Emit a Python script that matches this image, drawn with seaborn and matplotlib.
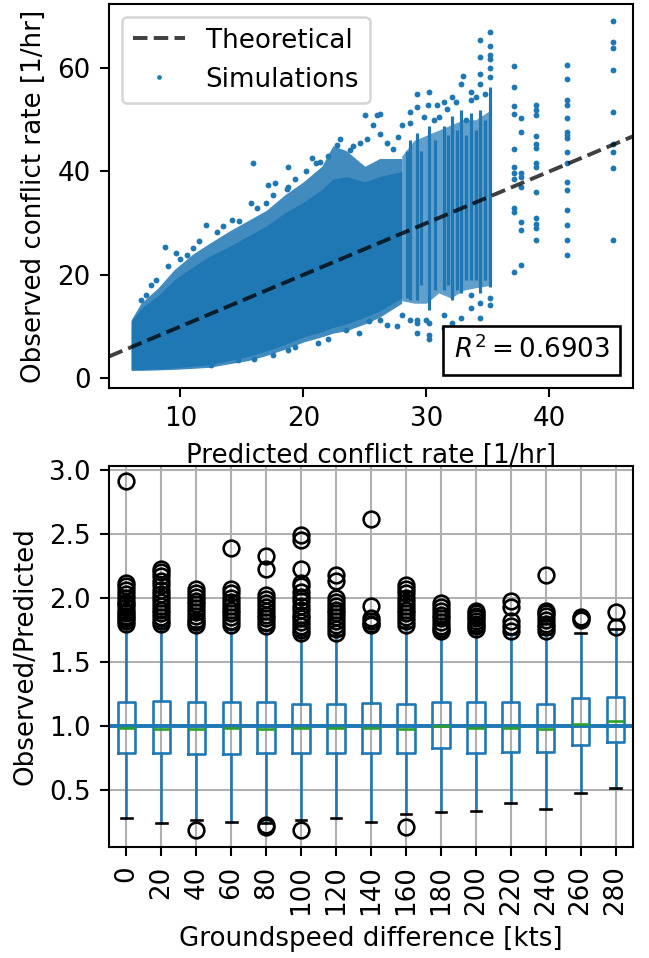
import matplotlib
matplotlib.use("Agg")
import matplotlib.pyplot as plt
import seaborn as sns
from matplotlib.offsetbox import AnchoredText
from matplotlib.lines import Line2D

BLUE = "#1f77b4"
GREEN = "#2ca02c"

# ---- top panel: observed vs predicted conflict rate --------------------
# body of the simulation cloud along the predicted rate:
# outer = sparse rim of the cloud, core = where the runs pile up solidly
cloud_x  = [6.0, 6.8, 8.2, 9.5, 11.0, 12.3, 14.0, 15.5, 17.0, 18.5, 20.0, 21.5, 22.4, 23.5, 25.0, 26.2, 28.0]
outer_lo = [1.5, 1.5, 1.6, 1.7, 1.9, 2.1, 2.8, 3.4, 4.4, 5.6, 7.0, 8.0, 8.7, 9.2, 10.5, 11.8, 14.5]
outer_hi = [11.3, 14.5, 17.5, 21.0, 24.0, 26.0, 28.5, 30.5, 32.5, 35.5, 38.0, 41.0, 45.0, 44.0, 41.0, 42.5, 42.5]
core_lo  = [1.7, 1.7, 1.8, 2.0, 2.3, 2.6, 3.4, 4.2, 5.3, 6.5, 8.0, 9.0, 9.8, 10.5, 11.8, 13.0, 15.5]
core_hi  = [11.0, 13.5, 16.0, 19.0, 21.5, 23.5, 25.5, 27.5, 29.5, 32.0, 34.0, 36.5, 38.5, 39.0, 38.0, 39.0, 40.0]

# looser band of runs between the high-rate columns
band_x  = [28.0, 29.0, 30.0, 31.0, 32.0, 33.0, 34.0, 35.3]
band_lo = [15.0, 14.5, 14.5, 16.5, 15.5, 17.0, 17.5, 18.0]
band_hi = [43.0, 46.0, 47.0, 48.0, 49.0, 50.0, 50.0, 52.0]

# discrete predicted-rate columns at the high end (solid part of each column)
stripe_x  = [28.4, 28.7, 29.2, 29.6, 30.2, 30.7, 31.4, 31.8, 32.1, 32.5, 32.8, 33.2, 33.6, 34.0, 34.4, 34.8, 35.2]
stripe_lo = [15.5, 15.1, 15.1, 18.0, 13.2, 17.0, 17.1, 18.0, 15.1, 17.0, 16.4, 19.0, 19.0, 19.0, 16.4, 19.0, 17.7]
stripe_hi = [44.0, 46.1, 47.4, 44.0, 48.7, 46.0, 48.7, 47.0, 50.7, 48.0, 51.9, 47.0, 51.3, 48.0, 51.9, 50.0, 56.4]

# individual runs outside the solid body
pts_x = [
    # upper rim
    15.91, 18.76, 17.13, 17.67, 18.76, 15.77, 16.99, 12.11, 14.2, 8.78, 9.67, 10.57,
    7.59, 6.83, 18.65, 20.68, 21.36, 22.72, 23.8, 25.02, 25.97, 26.24, 25.7, 25.2,
    26.24, 28.0, 28.68, 29.22, 30.16, 30.85,
    11.5, 13.0, 7.2, 8.0, 9.0, 10.0, 11.0, 13.5, 14.8, 16.2, 17.5, 19.3, 20.2, 21.0,
    22.0, 23.0, 24.0, 24.6, 26.8, 27.3, 27.7,
    # lower rim
    14.69, 12.52, 18.76, 19.3, 27.6, 29.2, 30.0, 25.3, 26.2, 21.2, 23.5, 16.0, 17.5,
    22.0, 24.5, 26.8, 28.0,
    # ends of the high-rate columns
    35.2, 35.2, 35.2, 35.2, 35.2, 35.2, 35.2,
    34.4, 34.4, 34.4, 34.4, 34.4, 34.4,
    33.6, 33.6, 33.6, 33.6,
    32.8, 32.8, 32.8,
    32.1, 32.1, 32.1,
    31.4, 31.4, 31.4,
    30.2, 30.2, 30.2, 30.2,
    29.2, 29.2, 29.2,
    28.7, 28.7,
    31.0, 31.7, 32.4, 33.2, 34.0, 34.8, 33.0, 30.6, 29.8, 35.2,
    # isolated high-rate columns
    37.1, 37.1, 37.1, 37.1, 37.1, 37.1, 37.1, 37.1, 37.1, 37.1, 37.1,
    37.7, 37.7, 37.7, 37.7, 37.7, 37.7, 37.7, 37.7,
    38.9, 38.9, 38.9, 38.9, 38.9, 38.9, 38.9, 38.9, 38.9, 38.9, 38.9, 38.9, 38.9,
    41.4, 41.4, 41.4, 41.4, 41.4, 41.4, 41.4, 41.4, 41.4, 41.4, 41.4, 41.4, 41.4,
    41.4, 41.4, 41.4,
    45.2, 45.2, 45.2, 45.2, 45.2, 45.2, 45.2, 45.2, 45.2,
]
pts_y = [
    41.6, 40.9, 37.4, 37.7, 37.0, 33.8, 33.8, 29.6, 30.6, 25.4, 24.2, 23.8,
    18.1, 15.2, 36.7, 42.6, 41.9, 45.1, 44.1, 50.9, 50.9, 51.2, 49.0, 46.2,
    47.3, 49.0, 49.3, 52.5, 52.9, 52.9,
    26.6, 28.3, 16.0, 19.0, 21.8, 23.0, 25.2, 29.4, 30.4, 33.0, 35.5, 38.6, 40.0, 41.6,
    43.0, 46.2, 45.0, 45.6, 45.6, 44.4, 46.7,
    3.5, 2.6, 5.4, 6.1, 10.0, 11.3, 11.3, 11.0, 11.2, 6.8, 9.3, 3.7, 4.4,
    7.6, 8.7, 10.2, 12.2,
    67.0, 64.2, 61.7, 60.0, 58.3, 15.6, 14.1,
    65.4, 62.2, 58.8, 56.9, 14.6, 11.7,
    55.4, 53.9, 16.0, 13.6,
    56.9, 11.7, 9.7,
    54.4, 10.7, 9.2,
    53.5, 12.2, 9.7,
    55.4, 10.7, 8.3, 7.6,
    54.9, 10.7, 8.7,
    51.5, 11.2,
    50.5, 52.0, 53.5, 50.0, 54.5, 55.0, 58.5, 50.0, 50.5, 62.5,
    60.4, 56.3, 52.7, 51.2, 44.3, 40.9, 39.7, 38.5, 32.9, 32.2, 20.6,
    50.3, 47.7, 39.7, 39.0, 37.0, 30.3, 28.7, 21.9,
    52.9, 51.9, 50.9, 46.8, 45.4, 44.5, 41.6, 40.9, 36.1, 30.9, 29.9, 29.0, 26.7,
    60.6, 57.8, 53.8, 52.9, 50.3, 47.7, 47.0, 46.4, 43.8, 41.6, 38.0, 36.5, 32.6,
    29.6, 26.7, 23.8,
    69.1, 65.1, 63.8, 59.6, 51.5, 45.4, 43.8, 40.6, 26.7,
]

r_squared = 0.6903

# ---- bottom panel: observed/predicted per groundspeed difference ------
gs_diff = [0, 20, 40, 60, 80, 100, 120, 140, 160, 180, 200, 220, 240, 260, 280]
box_q1  = [0.789, 0.789, 0.784, 0.784, 0.789, 0.789, 0.789, 0.789, 0.789, 0.825, 0.789, 0.800, 0.800, 0.852, 0.878]
box_med = [0.985, 0.974, 0.974, 0.985, 0.974, 0.985, 0.985, 0.985, 0.974, 1.000, 0.985, 0.985, 0.974, 1.013, 1.040]
box_q3  = [1.190, 1.198, 1.185, 1.185, 1.190, 1.170, 1.170, 1.180, 1.170, 1.185, 1.185, 1.185, 1.170, 1.216, 1.230]
whis_lo = [0.279, 0.240, 0.266, 0.253, 0.245, 0.266, 0.279, 0.253, 0.310, 0.325, 0.338, 0.396, 0.352, 0.474, 0.513]
whis_hi = [1.780, 1.780, 1.770, 1.760, 1.750, 1.710, 1.710, 1.770, 1.770, 1.720, 1.740, 1.720, 1.720, 1.730, 1.755]
outliers = [
    [2.91, 2.12, 2.09, 2.06, 2.03, 2.00, 1.97, 1.95, 1.93, 1.90, 1.88, 1.86, 1.84, 1.82, 1.80],
    [2.23, 2.20, 2.17, 2.13, 2.10, 2.06, 2.03, 2.00, 1.97, 1.94, 1.91, 1.88, 1.85, 1.82, 1.80],
    [2.07, 2.04, 2.01, 1.98, 1.95, 1.92, 1.89, 1.86, 1.83, 1.81, 1.79, 0.19],
    [2.39, 2.07, 2.04, 2.00, 1.97, 1.94, 1.91, 1.88, 1.85, 1.82, 1.79],
    [2.33, 2.23, 2.02, 1.99, 1.96, 1.93, 1.90, 1.87, 1.84, 1.81, 1.78, 0.21, 0.23],
    [2.49, 2.45, 2.23, 2.12, 2.09, 2.05, 2.01, 1.98, 1.94, 1.91, 1.87, 1.84, 1.81, 1.78, 1.75, 1.73, 0.19],
    [2.18, 2.13, 2.00, 1.97, 1.94, 1.91, 1.88, 1.85, 1.82, 1.79, 1.76, 1.73],
    [2.62, 1.94, 1.84, 1.82, 1.80, 1.79],
    [2.10, 2.07, 2.04, 2.00, 1.97, 1.94, 1.91, 1.88, 1.85, 1.82, 1.79, 0.21],
    [1.96, 1.93, 1.90, 1.87, 1.84, 1.81, 1.78, 1.76, 1.74],
    [1.90, 1.88, 1.86, 1.84, 1.82, 1.80, 1.78, 1.76],
    [1.98, 1.93, 1.82, 1.78, 1.74],
    [2.18, 1.90, 1.88, 1.86, 1.83, 1.80, 1.77, 1.74],
    [1.85, 1.84, 1.83],
    [1.89, 1.77],
]

# ---- figure ------------------------------------------------------------
plt.rcParams["font.family"] = ["DejaVu Sans"]
fig = plt.figure(figsize=(649 / 188, 958 / 188), dpi=188)
ax1 = fig.add_axes([109 / 649, 1 - 388 / 958, 524 / 649, 384 / 958])
ax2 = fig.add_axes([109 / 649, 1 - 847 / 958, 524 / 649, 381 / 958])

# top: cloud of simulations
ax1.fill_between(cloud_x, outer_lo, outer_hi, color=BLUE, alpha=0.85, linewidth=0, zorder=1)
ax1.fill_between(cloud_x, core_lo, core_hi, color=BLUE, linewidth=0, zorder=1)
ax1.fill_between(band_x, band_lo, band_hi, color=BLUE, alpha=0.7, linewidth=0, zorder=1)
ax1.vlines(stripe_x, stripe_lo, stripe_hi, color=BLUE, linewidth=1.2, zorder=1)
sns.scatterplot(x=pts_x, y=pts_y, ax=ax1, s=5, color=BLUE, linewidth=0, zorder=1)
ax1.axline((0, 0), slope=1, color="k", alpha=0.75, linestyle="--", linewidth=1.5, zorder=2)
ax1.set_xlim(4.2, 46.8)
ax1.set_ylim(-1.9, 72.4)
ax1.set_xticks([10, 20, 30, 40])
ax1.set_yticks([0, 20, 40, 60])
ax1.set_xlabel("Predicted conflict rate [1/hr]")
ax1.set_ylabel("Observed conflict rate [1/hr]")
handles = [
    Line2D([], [], color="k", alpha=0.75, linestyle="--", linewidth=1.5),
    Line2D([], [], color=BLUE, marker="o", markersize=1.8, linestyle="none", markeredgewidth=0),
]
ax1.legend(handles, ["Theoretical", "Simulations"], loc="upper left")
at = AnchoredText(f"$R^2 = {r_squared}$", loc="lower right", frameon=True)
at.patch.set_edgecolor("k")
ax1.add_artist(at)

# bottom: box plots per groundspeed difference
stats = []
for g, q1, med, q3, lo, hi, fl in zip(gs_diff, box_q1, box_med, box_q3, whis_lo, whis_hi, outliers):
    stats.append(dict(label=str(g), q1=q1, med=med, q3=q3, whislo=lo, whishi=hi, fliers=fl))
ax2.bxp(
    stats,
    positions=list(range(1, len(gs_diff) + 1)),
    widths=0.5,
    capwidths=0.3,
    boxprops=dict(color=BLUE, linewidth=1.0),
    whiskerprops=dict(color=BLUE, linewidth=1.0),
    capprops=dict(color="k", linewidth=1.0),
    medianprops=dict(color=GREEN, linewidth=1.0),
    flierprops=dict(marker="o", markerfacecolor="none", markeredgecolor="k", markersize=6),
)
ax2.axhline(1.0, color=BLUE, linewidth=1.5)
ax2.grid(True)
ax2.set_axisbelow(True)
ax2.set_xlim(0.5, len(gs_diff) + 0.5)
ax2.set_ylim(0.055, 3.031)
ax2.set_yticks([0.5, 1.0, 1.5, 2.0, 2.5, 3.0])
ax2.set_xticks(list(range(1, len(gs_diff) + 1)))
ax2.set_xticklabels([str(g) for g in gs_diff], rotation=90)
ax2.set_xlabel("Groundspeed difference [kts]")
ax2.set_ylabel("Observed/Predicted")

fig.savefig("out.png", dpi=188)
